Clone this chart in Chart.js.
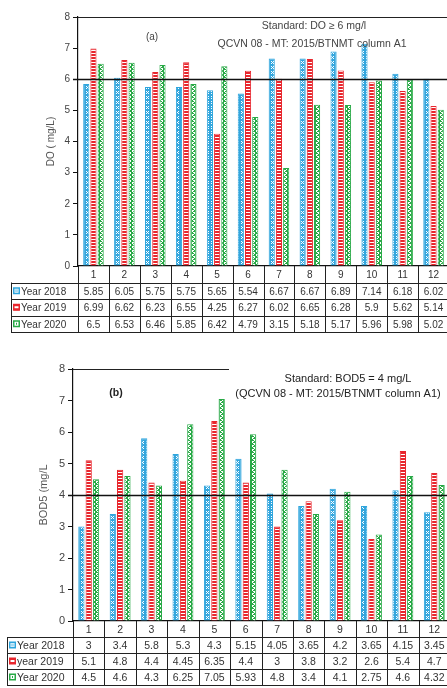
<!DOCTYPE html>
<html>
<head>
<meta charset="utf-8">
<script src="https://cdn.jsdelivr.net/npm/chart.js@4/dist/chart.umd.min.js"></script>
<style>
    body { margin: 0; background: #fff; overflow: hidden; width: 447px; height: 688px; position: relative }
    canvas { position: absolute; left: 0 }
    #graficoDO { top: 0 }
    #graficoBOD { top: 335px }
</style>
</head>
<body>
<canvas id="graficoDO" width="460" height="335"></canvas>
<canvas id="graficoBOD" width="460" height="353"></canvas>
<script>
const meses = ['1', '2', '3', '4', '5', '6', '7', '8', '9', '10', '11', '12']
const ticksY = [0, 1, 2, 3, 4, 5, 6, 7, 8]

const nomesDO = ['Year 2018', 'Year 2019', 'Year 2020']
const do2018 = [5.85, 6.05, 5.75, 5.75, 5.65, 5.54, 6.67, 6.67, 6.89, 7.14, 6.18, 6.02]
const do2019 = [6.99, 6.62, 6.23, 6.55, 4.25, 6.27, 6.02, 6.65, 6.28, 5.9, 5.62, 5.14]
const do2020 = [6.5, 6.53, 6.46, 5.85, 6.42, 4.79, 3.15, 5.18, 5.17, 5.96, 5.98, 5.02]
const limiteDO = 6

const nomesBOD = ['Year 2018', 'year 2019', 'Year 2020']
const bod2018 = [3, 3.4, 5.8, 5.3, 4.3, 5.15, 4.05, 3.65, 4.2, 3.65, 4.15, 3.45]
const bod2019 = [5.1, 4.8, 4.4, 4.45, 6.35, 4.4, 3, 3.8, 3.2, 2.6, 5.4, 4.7]
const bod2020 = [4.5, 4.6, 4.3, 6.25, 7.05, 5.93, 4.8, 3.4, 4.1, 2.75, 4.6, 4.32]
const limiteBOD = 4

const cores = ['#2ea5dd', '#e8262d', '#28a946']
const fonte = "'Liberation Sans', Arial, sans-serif"

function criarPadrao(tipo) {
    const c = document.createElement('canvas')
    const p = c.getContext('2d')
    if (tipo === 'azul') {
        c.width = 5; c.height = 5
        p.fillStyle = '#34a6dd'
        p.fillRect(0, 0, 5, 5)
        p.fillStyle = '#ffffff'
        p.fillRect(1, 1, 1, 1); p.fillRect(3, 1, 1, 1); p.fillRect(2, 2, 1, 1)
        p.fillRect(1, 3, 1, 1); p.fillRect(3, 3, 1, 1)
    } else if (tipo === 'vermelho') {
        c.width = 3; c.height = 3
        p.fillStyle = cores[1]
        p.fillRect(0, 0, 3, 2)
        p.fillStyle = '#ffffff'
        p.fillRect(0, 2, 3, 1)
    } else {
        c.width = 4; c.height = 4
        p.fillStyle = cores[2]
        p.fillRect(0, 0, 4, 4)
        p.fillStyle = '#ffffff'
        p.fillRect(1, 0, 2, 1); p.fillRect(2, 1, 1, 1); p.fillRect(0, 2, 2, 1); p.fillRect(0, 3, 1, 1)
    }
    return p.createPattern(c, 'repeat')
}

const padroes = [criarPadrao('azul'), criarPadrao('vermelho'), criarPadrao('verde')]

function linha(ctx, x1, y1, x2, y2) {
    ctx.beginPath()
    ctx.moveTo(x1, y1)
    ctx.lineTo(x2, y2)
    ctx.stroke()
}

function iconeLegenda(ctx, i, x, y) {
    ctx.fillStyle = '#ffffff'
    ctx.fillRect(x, y - 3.5, 7, 7)
    ctx.strokeStyle = cores[i]
    ctx.lineWidth = 1.5
    ctx.strokeRect(x + 0.75, y - 2.75, 5.5, 5.5)
    if (i === 0) {
        ctx.fillStyle = '#a8dbf3'
        ctx.fillRect(x + 2, y - 1.5, 3, 3)
    } else if (i === 1) {
        ctx.fillStyle = cores[1]
        ctx.fillRect(x + 1, y - 3, 5, 2)
        ctx.fillRect(x + 1, y + 1, 5, 2)
    } else {
        ctx.fillStyle = cores[2]
        ctx.fillRect(x + 3, y - 1, 1, 2)
    }
}

function criarExtras(cfg) {
    return {
        id: 'extras',
        afterDatasetsDraw(chart) {
            const { ctx, scales: { y }, chartArea } = chart
            const py = Math.round(y.getPixelForValue(cfg.limite)) + 0.5
            ctx.save()
            ctx.strokeStyle = '#111'
            ctx.lineWidth = 1.6
            linha(ctx, chartArea.left - 5, py, chart.width, py)
            ctx.restore()
        },
        afterDraw(chart) {
            const { ctx, scales: { x }, chartArea } = chart
            const passo = x.width / meses.length
            const topo = chartArea.bottom
            const h = cfg.alturaLinha
            ctx.save()

            // linha superior do grafico
            ctx.strokeStyle = '#222'
            ctx.lineWidth = 1.2
            linha(ctx, chartArea.left, chartArea.top + 0.5, cfg.fimTopo || chart.width, chartArea.top + 0.5)

            // tabela de dados
            ctx.lineWidth = 1
            ctx.strokeStyle = '#222'
            for (let r = 1; r <= 4; r++) {
                const py = Math.round(topo + r * h) + 0.5
                linha(ctx, cfg.esquerdaTabela, py, chart.width, py)
            }
            for (let i = 0; i <= meses.length; i++) {
                const px = Math.round(x.left + i * passo) + 0.5
                linha(ctx, px, topo, px, topo + 4 * h)
            }
            linha(ctx, cfg.esquerdaTabela + 0.5, topo + h, cfg.esquerdaTabela + 0.5, topo + 4 * h)

            ctx.font = cfg.tamanhoTabela + 'px ' + fonte
            ctx.fillStyle = '#333'
            ctx.textAlign = 'center'
            ctx.textBaseline = 'middle'
            meses.forEach((m, i) => {
                ctx.fillText(m, x.getPixelForValue(i), topo + h / 2 + 1)
            })
            cfg.valores.forEach((serie, r) => {
                const py = topo + (r + 1.5) * h + 1
                serie.forEach((v, i) => {
                    ctx.fillStyle = '#333'
                    ctx.fillText(String(v), x.getPixelForValue(i), py)
                })
                iconeLegenda(ctx, r, cfg.esquerdaTabela + 2, py - 1)
                ctx.fillStyle = '#333'
                ctx.textAlign = 'left'
                ctx.fillText(cfg.nomes[r], cfg.esquerdaTabela + 10, py)
                ctx.textAlign = 'center'
            })

            // anotacoes
            cfg.textos.forEach(t => {
                ctx.font = (t.negrito ? 'bold ' : '') + t.tamanho + 'px ' + fonte
                ctx.fillStyle = t.cor
                ctx.textAlign = 'center'
                ctx.fillText(t.texto, t.x, t.y)
            })
            ctx.restore()
        }
    }
}

function criarGrafico(id, cfg) {
    const ctx = document.getElementById(id).getContext('2d')
    return new Chart(ctx, {
        type: 'bar',
        data: {
            labels: meses,
            datasets: cfg.valores.map((valores, i) => ({
                label: cfg.nomes[i],
                data: valores,
                backgroundColor: padroes[i],
                borderColor: cores[i],
                borderWidth: 1,
                categoryPercentage: 0.7,
                barPercentage: 0.85
            }))
        },
        options: {
            responsive: false,
            animation: false,
            layout: { padding: { top: cfg.topo, right: cfg.direita, left: 0, bottom: 0 } },
            plugins: {
                legend: { display: false },
                tooltip: { enabled: false }
            },
            scales: {
                x: {
                    grid: { display: false },
                    border: { display: true, color: '#111', width: 1.2 },
                    ticks: { display: false },
                    afterFit: s => { s.height = cfg.alturaX }
                },
                y: {
                    min: ticksY[0],
                    max: ticksY[ticksY.length - 1],
                    ticks: { stepSize: 1, color: '#444', padding: 3, font: { family: fonte, size: cfg.tamanhoTicks } },
                    grid: { drawOnChartArea: false, drawTicks: true, tickLength: 5, color: '#111' },
                    border: { display: true, color: '#111', width: 1.2 },
                    title: {
                        display: true,
                        text: cfg.tituloY,
                        color: '#555',
                        font: { family: fonte, size: cfg.tamanhoTitulo },
                        padding: { top: cfg.padTitulo, bottom: 0 }
                    },
                    afterFit: s => { s.width = cfg.larguraY }
                }
            }
        },
        plugins: [criarExtras(cfg)]
    })
}

criarGrafico('graficoDO', {
    valores: [do2018, do2019, do2020],
    nomes: nomesDO,
    limite: limiteDO,
    topo: 17,
    direita: 11,
    alturaX: 69,
    larguraY: 78,
    tituloY: 'DO ( mg/L)',
    tamanhoTitulo: 10,
    padTitulo: 45,
    tamanhoTicks: 10,
    tamanhoTabela: 10,
    alturaLinha: 16.5,
    esquerdaTabela: 11,
    fimTopo: null,
    textos: [
        { texto: 'Standard: DO \u2265 6 mg/l', x: 314, y: 26, tamanho: 10.5, cor: '#444' },
        { texto: 'QCVN 08 - MT: 2015/BTNMT column A1', x: 312, y: 44, tamanho: 10.5, cor: '#444' },
        { texto: '(a)', x: 152, y: 37, tamanho: 10, cor: '#444' }
    ]
})

criarGrafico('graficoBOD', {
    valores: [bod2018, bod2019, bod2020],
    nomes: nomesBOD,
    limite: limiteBOD,
    topo: 34,
    direita: 10,
    alturaX: 67,
    larguraY: 73,
    tituloY: 'BOD5 (mg/L',
    tamanhoTitulo: 11,
    padTitulo: 37,
    tamanhoTicks: 11,
    tamanhoTabela: 10.5,
    alturaLinha: 16,
    esquerdaTabela: 7,
    fimTopo: 229,
    textos: [
        { texto: 'Standard: BOD5 = 4 mg/L', x: 348, y: 44, tamanho: 11, cor: '#222' },
        { texto: '(QCVN 08 - MT: 2015/BTNMT column A1)', x: 338, y: 59, tamanho: 11, cor: '#222' },
        { texto: '(b)', x: 116, y: 58, tamanho: 10.5, cor: '#222', negrito: true }
    ]
})
</script>
</body>
</html>
